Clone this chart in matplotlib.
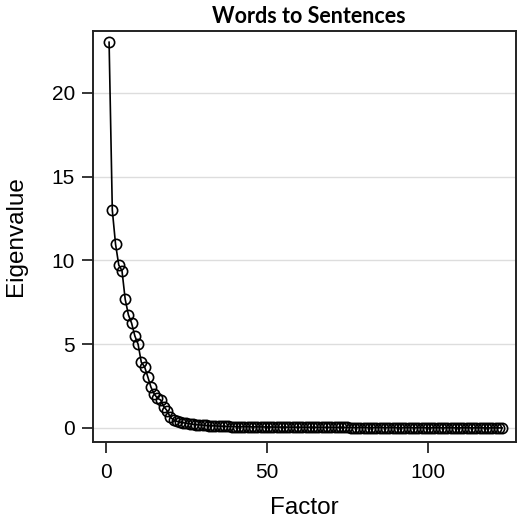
import matplotlib.pyplot as plt

# Eigenvalues for each extracted factor (scree plot)
head = [23.03, 13.0, 10.98, 9.73, 9.39, 7.68, 6.75, 6.25, 5.49, 5.0,
        3.92, 3.66, 3.06, 2.43, 2.03, 1.77, 1.67, 1.27, 1.03, 0.64]
mid = [0.48, 0.40, 0.35, 0.31, 0.28, 0.25, 0.22, 0.20, 0.18, 0.17,
       0.15, 0.14, 0.13, 0.12, 0.11, 0.10, 0.095, 0.09, 0.085, 0.08]
tail = [0.078, 0.075, 0.072, 0.069, 0.066, 0.064, 0.062, 0.060, 0.058, 0.056,
        0.054, 0.052, 0.050, 0.049, 0.047, 0.046, 0.044, 0.043, 0.042, 0.040,
        0.039, 0.038, 0.037, 0.036, 0.035, 0.034, 0.033, 0.032, 0.031, 0.030,
        0.029, 0.028, 0.028, 0.027, 0.026, 0.025, 0.025, 0.024, 0.023, 0.023,
        0.022, 0.021, 0.021, 0.020, 0.019, 0.019, 0.018, 0.018, 0.017, 0.016,
        0.016, 0.015, 0.015, 0.014, 0.014, 0.013, 0.013, 0.012, 0.012, 0.011,
        0.011, 0.010, 0.010, 0.009, 0.009, 0.008, 0.008, 0.008, 0.007, 0.007,
        0.006, 0.006, 0.006, 0.005, 0.005, 0.004, 0.004, 0.004, 0.003, 0.003,
        0.002, 0.002, 0.001]
eigenvalues = head + mid + tail
factors = list(range(1, len(eigenvalues) + 1))

yticks = [0, 5, 10, 15, 20]
xticks = [0, 50, 100]

plt.rcParams['font.family'] = ['Liberation Sans', 'DejaVu Sans']

fig = plt.figure(figsize=(5.18, 5.20), dpi=100)
ax = fig.add_axes([0.1795, 0.150, 0.8166, 0.7904])

# horizontal reference lines
for y in yticks:
    ax.axhline(y, color='#dddddd', lw=1.0, zorder=0)

ax.plot(factors, eigenvalues, color='black', lw=1.2,
        marker='o', markersize=7.4, markerfacecolor='none',
        markeredgecolor='black', markeredgewidth=1.2)

ax.set_xlim(-4.0, 127.3)
ax.set_ylim(-0.84, 23.7)
ax.set_xticks(xticks)
ax.set_yticks(yticks)
ax.tick_params(direction='out', length=8, width=1.1, labelsize=15, pad=5)
ax.tick_params(axis='x', pad=7)

for s in ax.spines.values():
    s.set_linewidth(1.4)
    s.set_color('#222222')

ax.set_xlabel('Factor', fontsize=17.5, labelpad=11)
ax.set_ylabel('Eigenvalue', fontsize=17.5, labelpad=18)
ax.set_title('Words to Sentences', fontsize=15.5, fontweight='bold',
             family='Lato', pad=6, x=0.51)

fig.savefig('out.png', dpi=100)
